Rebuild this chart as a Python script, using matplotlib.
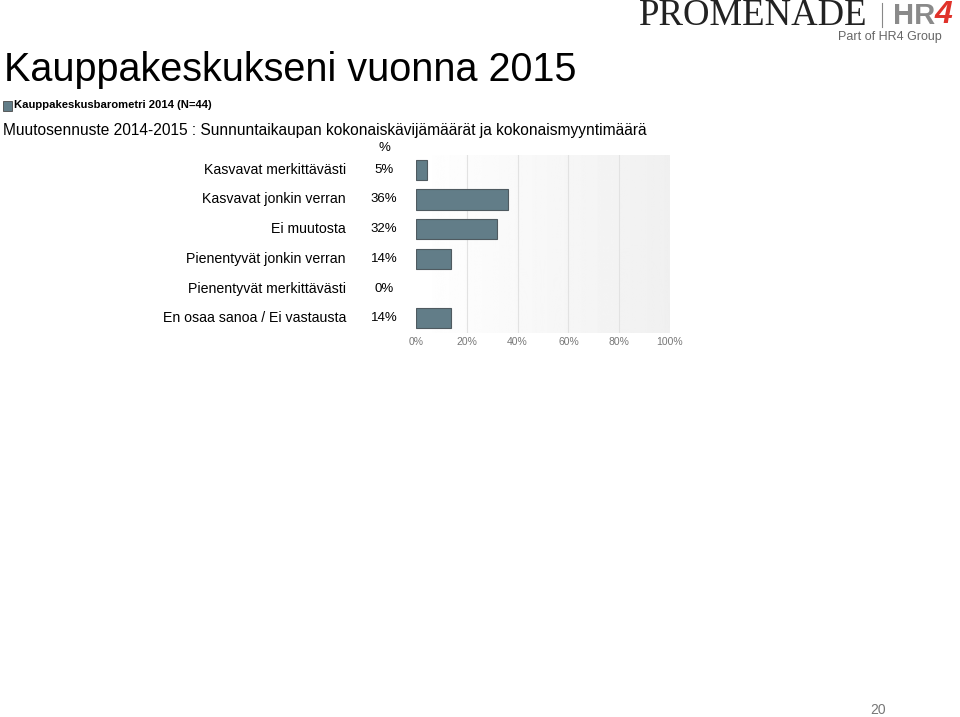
import matplotlib
matplotlib.use("Agg")
import matplotlib.pyplot as plt
import numpy as np

categories = ["Kasvavat merkittävästi", "Kasvavat jonkin verran", "Ei muutosta",
              "Pienentyvät jonkin verran", "Pienentyvät merkittävästi",
              "En osaa sanoa / Ei vastausta"]
values = [4.5, 36.4, 31.8, 13.6, 0.0, 13.6]
value_labels = ["5%", "36%", "32%", "14%", "0%", "14%"]
xticks = [0, 20, 40, 60, 80, 100]
xtick_labels = ["0%", "20%", "40%", "60%", "80%", "100%"]

plt.rcParams['font.family'] = ['Liberation Sans', 'DejaVu Sans']

W, H = 960, 717
fig = plt.figure(figsize=(W/100, H/100), dpi=100)

def fx(px): return px / W
def fy(py): return 1 - py / H

# Title etc.
fig.text(fx(4), fy(70), "Kauppakeskukseni vuonna 2015", fontsize=28.5, va='center', ha='left', color='black')
fig.patches.append(matplotlib.patches.Rectangle((fx(3), fy(111)), fx(9), 10/H, transform=fig.transFigure,
                                                facecolor='#627D88', edgecolor='#4a4a4a', lw=0.6))
fig.text(fx(14), fy(105), "Kauppakeskusbarometri 2014 (N=44)", fontsize=8.1, fontweight='bold', va='center', ha='left')
fig.text(fx(3), fy(130), "Muutosennuste 2014-2015 : Sunnuntaikaupan kokonaiskävijämäärät ja kokonaismyyntimäärä",
         fontsize=11.2, va='center', ha='left')

# Logo
fig.text(fx(639), fy(16), "PROMENADE", family=['Liberation Serif'], fontsize=26.5, color='#222222', va='center', ha='left')
fig.add_artist(matplotlib.lines.Line2D([fx(882), fx(882)], [fy(3), fy(27)], color='#888888', lw=0.8))
fig.text(fx(893), fy(16), "HR", fontsize=21, fontweight='bold', color='#8a8a8a', va='center', ha='left')
fig.text(fx(935), fy(15), "4", fontsize=23, fontstyle='italic', fontweight='bold', color='#e0322a', va='center', ha='left')
fig.text(fx(838), fy(37), "Part of HR4 Group", fontsize=9, color='#666666', va='center', ha='left')

# Page number
fig.text(fx(878), fy(710), "20", fontsize=10, color='#777777', va='center', ha='center')

# Axes
ax = fig.add_axes([fx(416), fy(333), fx(670) - fx(416), (333 - 155) / H])
grad = np.linspace(1.0, 0.94, 256).reshape(1, -1)
ax.imshow(grad, extent=[0, 100, 5.5, -0.5], aspect='auto', cmap='gray', vmin=0, vmax=1, zorder=0)
for t in [20, 40, 60, 80]:
    ax.axvline(t, color='#e2e2e2', lw=0.8, zorder=1)
y = np.arange(len(categories))
lws = [0.8 if v > 0 else 0 for v in values]
ax.barh(y, values, height=0.68, color='#627D88', edgecolor='#4f5a60', linewidth=lws, zorder=2)
ax.set_xlim(0, 100)
ax.set_ylim(5.5, -0.5)
for s in ax.spines.values():
    s.set_visible(False)
ax.set_yticks([])
ax.set_xticks(xticks)
ax.set_xticklabels(xtick_labels, fontsize=7.5, color='#777777')
ax.tick_params(axis='x', length=0, pad=3)

# Category and value labels
trans = matplotlib.transforms.blended_transform_factory(fig.transFigure, ax.transData)
for i, (c, v) in enumerate(zip(categories, value_labels)):
    ax.text(fx(346), i, c, transform=trans, ha='right', va='center', fontsize=10.2)
    ax.text(fx(384), i, v, transform=trans, ha='center', va='center', fontsize=9.5)
fig.text(fx(384), fy(148), "%", fontsize=9.5, ha='center', va='center')

fig.savefig("out.png", dpi=100)
